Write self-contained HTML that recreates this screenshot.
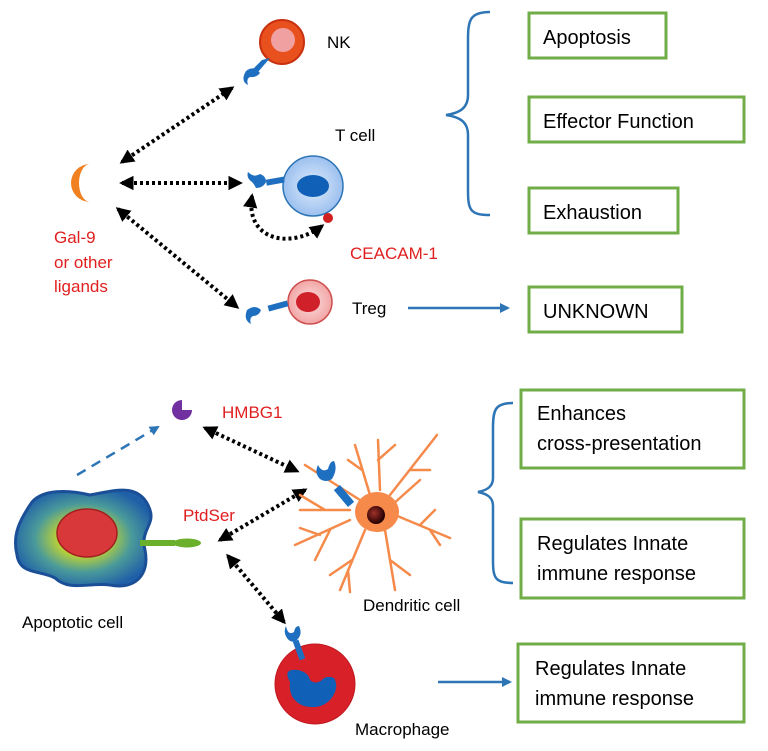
<!DOCTYPE html>
<html><head><meta charset="utf-8"><style>
html,body{margin:0;padding:0;background:#fff;}
svg{display:block;font-family:"Liberation Sans",sans-serif;}
</style></head><body>
<svg width="768" height="751" viewBox="0 0 768 751" xmlns="http://www.w3.org/2000/svg">
<defs>
<marker id="ah" viewBox="0 0 10 10" refX="8" refY="5" markerWidth="3.6" markerHeight="3.6" orient="auto-start-reverse"><path d="M0,0 L10,5 L0,10 z" fill="#000"/></marker>
<marker id="bh" viewBox="0 0 10 10" refX="8" refY="5" markerWidth="4" markerHeight="4" orient="auto"><path d="M0,0 L10,5 L0,10 z" fill="#2e75b6"/></marker>
<radialGradient id="apg" cx="50%" cy="50%" r="55%"><stop offset="0.3" stop-color="#c8d82a"/><stop offset="0.65" stop-color="#4a9a9a"/><stop offset="1" stop-color="#1f5fa8"/></radialGradient>
<radialGradient id="tg" cx="50%" cy="50%" r="50%"><stop offset="0" stop-color="#e0ecfb"/><stop offset="1" stop-color="#9cc0ef"/></radialGradient>
<radialGradient id="rg" cx="50%" cy="50%" r="50%"><stop offset="0" stop-color="#fbe0e0"/><stop offset="1" stop-color="#f2a5a5"/></radialGradient>
<radialGradient id="dn" cx="40%" cy="40%" r="60%"><stop offset="0" stop-color="#a0302a"/><stop offset="1" stop-color="#200"/></radialGradient>
</defs>
<g fill="none" stroke="#000" stroke-width="4" stroke-dasharray="3,3">
<line x1="122" y1="162" x2="232" y2="88" marker-start="url(#ah)" marker-end="url(#ah)"/>
<line x1="122" y1="183" x2="240" y2="183" marker-start="url(#ah)" marker-end="url(#ah)"/>
<line x1="118" y1="209" x2="237" y2="307" marker-start="url(#ah)" marker-end="url(#ah)"/>
<path d="M252,196 C245,240 290,250 322,226" marker-start="url(#ah)" marker-end="url(#ah)"/>
<line x1="205" y1="428" x2="297" y2="471" marker-start="url(#ah)" marker-end="url(#ah)"/>
<line x1="305" y1="490" x2="220" y2="540" marker-start="url(#ah)" marker-end="url(#ah)"/>
<line x1="228" y1="556" x2="284" y2="622" marker-start="url(#ah)" marker-end="url(#ah)"/>
</g>
<!-- NK -->
<circle cx="282" cy="42" r="22" fill="#e8501e" stroke="#c83010" stroke-width="2"/>
<circle cx="283" cy="40" r="12" fill="#f0a0a0"/>
<g fill="#1f6fc0"><path d="M262,60 L270,58 L258,72 L252,70z"/><path d="M246,71 q8,-6 14,2 q-4,5 -10,4 q-4,2 -2,8 q-8,-4 -2,-14z"/></g>
<text x="327" y="48" font-size="17">NK</text>
<!-- Gal-9 crescent -->
<path d="M90,164 A19,19 0 0 0 90,202 A11,19 0 0 1 90,164z" fill="#f08020"/>
<g fill="#e02020" font-size="17"><text x="54" y="243">Gal-9</text><text x="54" y="268">or other</text><text x="54" y="292">ligands</text></g>
<!-- T cell -->
<circle cx="313" cy="186" r="30" fill="url(#tg)" stroke="#2e75b6" stroke-width="1.5"/>
<ellipse cx="313" cy="186" rx="16" ry="11" fill="#1060b8"/>
<g fill="#1f6fc0"><rect x="266" y="178" width="18" height="6" transform="rotate(-10 276 180)"/><path d="M248,172 q6,6 12,2 q6,2 6,8 q-3,6 -10,6 q-2,-4 -4,-6 q-6,-4 -4,-10z"/></g>
<circle cx="328" cy="218" r="5" fill="#d02020"/>
<text x="335" y="141" font-size="17">T cell</text>
<text x="350" y="259" font-size="17" fill="#e02020">CEACAM-1</text>
<!-- Treg -->
<circle cx="310" cy="302" r="22" fill="url(#rg)" stroke="#d05050" stroke-width="1.5"/>
<ellipse cx="308" cy="302" rx="12" ry="10" fill="#d0202a"/>
<g fill="#1f6fc0"><rect x="268" y="303" width="20" height="6" transform="rotate(-15 278 306)"/><path d="M247,310 q8,-6 14,0 q-2,6 -8,6 q-4,2 -2,8 q-8,-4 -4,-14z"/></g>
<text x="352" y="314" font-size="17">Treg</text>
<line x1="408" y1="308" x2="508" y2="308" stroke="#2e75b6" stroke-width="2.5" marker-end="url(#bh)"/>
<!-- braces -->
<path d="M490,12 C470,12 468,20 468,40 L468,95 C468,108 460,113 446,115 C460,117 468,122 468,135 L468,190 C468,210 470,215 490,215" fill="none" stroke="#2e75b6" stroke-width="2.5"/>
<path d="M513,403 C495,403 493,410 493,428 L493,478 C493,486 488,490 478,492 C488,494 493,498 493,506 L493,560 C493,578 495,583 513,583" fill="none" stroke="#2e75b6" stroke-width="2.5"/>
<!-- boxes -->
<g fill="none" stroke="#70ad47" stroke-width="3">
<rect x="529" y="13" width="137" height="45"/>
<rect x="529" y="97" width="215" height="45"/>
<rect x="529" y="188" width="149" height="45"/>
<rect x="529" y="287" width="153" height="45"/>
<rect x="521" y="390" width="223" height="78"/>
<rect x="521" y="519" width="223" height="79"/>
<rect x="518" y="644" width="226" height="78"/>
</g>
<g font-size="20" fill="#000">
<text x="543" y="44">Apoptosis</text>
<text x="543" y="128">Effector Function</text>
<text x="543" y="219">Exhaustion</text>
<text x="543" y="318">UNKNOWN</text>
<text x="537" y="420">Enhances</text><text x="537" y="450">cross-presentation</text>
<text x="537" y="550">Regulates Innate</text><text x="537" y="580">immune response</text>
<text x="535" y="675">Regulates Innate</text><text x="535" y="705">immune response</text>
</g>
<!-- HMBG1 -->
<path d="M182,410 L192,410 A10,10 0 1 1 182,400 z" fill="#7030a0"/>
<text x="222" y="418" font-size="17" fill="#e02020">HMBG1</text>
<line x1="77" y1="475" x2="158" y2="427" stroke="#2e75b6" stroke-width="2.5" stroke-dasharray="10,7" marker-end="url(#bh)"/>
<!-- apoptotic cell -->
<path d="M30,505 C40,488 70,490 90,495 C110,492 140,480 150,510 C155,525 140,530 145,550 C150,575 135,590 110,585 C90,582 70,592 55,578 C40,570 20,575 17,555 C12,535 20,520 30,505z" fill="url(#apg)" stroke="#1a4f98" stroke-width="3"/>
<ellipse cx="87" cy="533" rx="30" ry="24" fill="#d8383a" stroke="#a02020" stroke-width="1.5"/>
<rect x="140" y="540" width="35" height="6" fill="#6ab02a"/>
<ellipse cx="187" cy="543" rx="14" ry="4.5" fill="#6ab02a"/>
<text x="183" y="521" font-size="17" fill="#e02020">PtdSer</text>
<text x="22" y="628" font-size="17">Apoptotic cell</text>
<!-- dendritic cell -->
<g stroke="#f58a4a" stroke-width="2.5" fill="none" stroke-linecap="round">
<path d="M360,500 L305,465"/><path d="M350,520 L295,545 M320,535 L300,528 M330,530 L315,560"/>
<path d="M350,510 L300,510 M325,510 L300,495"/>
<path d="M365,530 L340,590 M352,560 L330,575 M348,570 L350,592"/>
<path d="M385,530 L395,590 M390,560 L410,575"/>
<path d="M395,515 L450,538 M420,525 L435,510 M430,530 L440,545"/>
<path d="M390,495 L437,435 M410,470 L430,470"/>
<path d="M380,490 L378,440 M378,460 L395,445"/>
<path d="M370,495 L355,445 M362,470 L348,460"/>
<path d="M392,505 L420,480"/>
</g>
<ellipse cx="377" cy="512" rx="22" ry="20" fill="#f58a4a"/>
<circle cx="376" cy="515" r="9" fill="url(#dn)"/>
<g fill="#1f6fc0"><rect x="340" y="485" width="8" height="22" transform="rotate(-40 344 496)"/><path d="M318,465 q4,8 10,4 q2,-8 6,-8 q4,8 -2,18 q-6,4 -12,0 q-6,-6 -2,-14z"/></g>
<text x="363" y="611" font-size="17">Dendritic cell</text>
<!-- macrophage -->
<circle cx="315" cy="684" r="40" fill="#d82028" stroke="#c01820" stroke-width="1"/>
<path d="M290,682 q-8,-14 8,-12 q10,2 12,10 q5,5 12,0 q4,-5 12,-2 q6,10 -4,22 q-10,10 -26,6 q-16,-6 -14,-24z" fill="#1060b8"/>
<g fill="#1f6fc0"><rect x="296" y="640" width="6" height="20" transform="rotate(-20 299 650)"/><path d="M286,626 q2,10 8,6 q1,-6 5,-6 q4,8 -2,14 q-6,4 -10,-2 q-4,-6 -1,-12z"/></g>
<text x="355" y="735" font-size="17">Macrophage</text>
<line x1="438" y1="682" x2="510" y2="682" stroke="#2e75b6" stroke-width="2.5" marker-end="url(#bh)"/>
</svg>
</body></html>
